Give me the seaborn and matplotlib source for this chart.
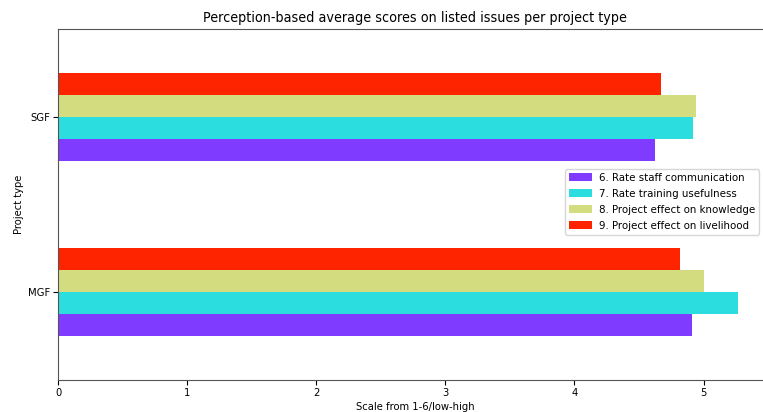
import matplotlib
matplotlib.use("Agg")
import matplotlib.pyplot as plt
import seaborn as sns
import pandas as pd

project_types = ["SGF", "MGF"]
issues = ["6. Rate staff communication", "7. Rate training usefulness",
          "8. Project effect on knowledge", "9. Project effect on livelihood"]
sgf_scores = [4.62, 4.92, 4.94, 4.67]
mgf_scores = [4.91, 5.27, 5.00, 4.82]
colors = ["#7f3bff", "#2cdddf", "#d4dc80", "#ff2400"]

plt.rcParams["font.family"] = ["DejaVu Sans"]
plt.rcParams["font.stretch"] = "condensed"

rows = []
for pt, vals in zip(project_types, [sgf_scores, mgf_scores]):
    for iss, v in zip(issues, vals):
        rows.append({"Project type": pt, "Issue": iss, "Score": v})
df = pd.DataFrame(rows)

fig = plt.figure(figsize=(7.63, 4.12), dpi=100)
ax = fig.add_axes([58 / 763, 1 - 380 / 412, (772 - 58) / 763, (380 - 29) / 412])

hue_order = issues[::-1]
palette = dict(zip(issues, colors))
sns.barplot(data=df, y="Project type", x="Score", hue="Issue", order=project_types,
            hue_order=hue_order, palette=palette, orient="h", width=0.5,
            saturation=1, linewidth=0, errorbar=None, ax=ax)

ax.set_xlim(0, 5.53)
ax.set_ylim(1.5, -0.5)
ax.set_xticks([0, 1, 2, 3, 4, 5])
ax.set_title("Perception-based average scores on listed issues per project type",
             fontsize=10.3, pad=5)
ax.set_xlabel("Scale from 1-6/low-high", fontsize=8, labelpad=3)
ax.set_ylabel("Project type", fontsize=8, labelpad=3)
ax.tick_params(labelsize=8, length=3.5, pad=2)
for s in ax.spines.values():
    s.set_color("#555555")

handles, labels = ax.get_legend_handles_labels()
hmap = dict(zip(labels, handles))
ax.legend([hmap[i] for i in issues], issues, loc="center left",
          bbox_to_anchor=(565 / 763, 1 - 202 / 412), bbox_transform=fig.transFigure,
          fontsize=8.2, frameon=True, handlelength=2, borderaxespad=0,
          labelspacing=0.5, borderpad=0.35, handletextpad=0.6)

fig.savefig("out.png", dpi=100)
